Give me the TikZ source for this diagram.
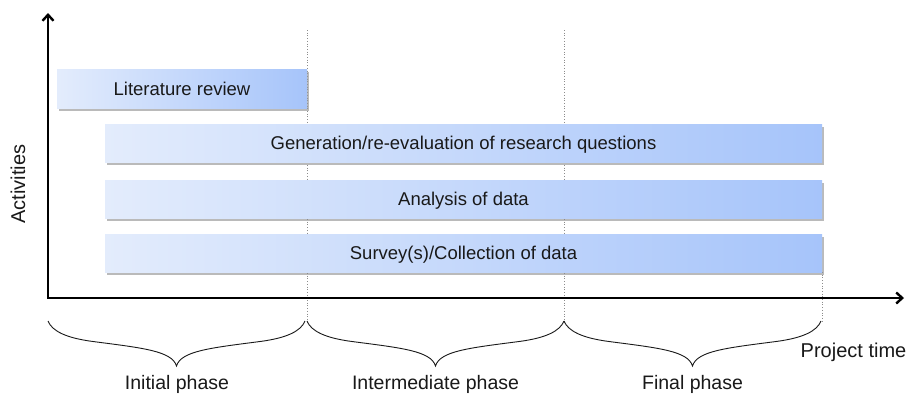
\documentclass[tikz,border=0pt]{standalone}
\usepackage{fontspec}
\setmainfont{Liberation Sans}
\usetikzlibrary{arrows.meta,shadows}
\definecolor{barL}{HTML}{E3ECFC}
\definecolor{barR}{HTML}{A6C4FA}
\begin{document}
\begin{tikzpicture}[x=1pt,y=-1pt,
  bar/.style={left color=barL, right color=barR, draw=none, inner sep=0pt,
    drop shadow={shadow xshift=1.5pt,shadow yshift=-2.5pt,fill=black!45,opacity=0.6},
    font=\fontsize{18.5}{22}\selectfont, text=black!90, text height=13.2pt, text depth=0pt},
  lbl/.style={font=\fontsize{19.5}{23}\selectfont, text=black!90, inner sep=0pt},
  axis/.style={line width=2.4pt, line join=miter,
    {Straight Barb[length=6pt,width=11pt]}-{Straight Barb[length=6pt,width=11pt]}},
  phase/.style={draw=black!45, dotted, line width=0.7pt},
  phasebrace/.pic={\draw[line width=0.9pt, black!90] (0,0) .. controls (4,10) and (18,17) .. (45,20.5)
      .. controls (95,27) and (124,30) .. (128.5,45)
      .. controls (133,30) and (162,27) .. (212,20.5)
      .. controls (239,17) and (253,10) .. (257,0);}]
\fill[white] (0,0) rectangle (912,397);
\useasboundingbox (0,0) rectangle (912,397);
% phase separators
\coordinate (d1t) at (307,30);  \coordinate (d1b) at (307,322);
\coordinate (d2t) at (564,30);  \coordinate (d2b) at (564,322);
\coordinate (d3t) at (822,272); \coordinate (d3b) at (822,322);
\draw[phase] (d1t) -- (d1b);
\draw[phase] (d2t) -- (d2b);
\draw[phase] (d3t) -- (d3b);
% axes
\coordinate (O) at (48,298);
\coordinate (ytop) at (48,13);
\coordinate (xend) at (904,298);
\draw[axis] (ytop) -- (O) -- (xend);
% bars
\node[bar, minimum width=250pt, minimum height=39pt] (lit) at (182,88.5) {Literature review};
\node[bar, minimum width=717pt, minimum height=38pt] (gen) at (463.5,143) {Generation/re-evaluation of research questions};
\node[bar, minimum width=717pt, minimum height=38pt] (ana) at (463.5,199) {Analysis of data};
\node[bar, minimum width=717pt, minimum height=38pt] (sur) at (463.5,253) {Survey(s)/Collection of data};
% braces
\pic at (48,321) {phasebrace};
\pic at (307,321) {phasebrace};
\pic at (564,321) {phasebrace};
% labels
\node[lbl, anchor=base] (ip) at (177,389.5) {Initial phase};
\node[lbl, anchor=base] (mp) at (435.5,389.5) {Intermediate phase};
\node[lbl, anchor=base] (fp) at (692.5,389.5) {Final phase};
\node[lbl, anchor=base, font=\fontsize{20}{24}\selectfont] (pt) at (853.5,357) {Project time};
\node[lbl, rotate=90, font=\fontsize{20}{24}\selectfont] (act) at (18,184) {Activities};
\end{tikzpicture}
\end{document}
